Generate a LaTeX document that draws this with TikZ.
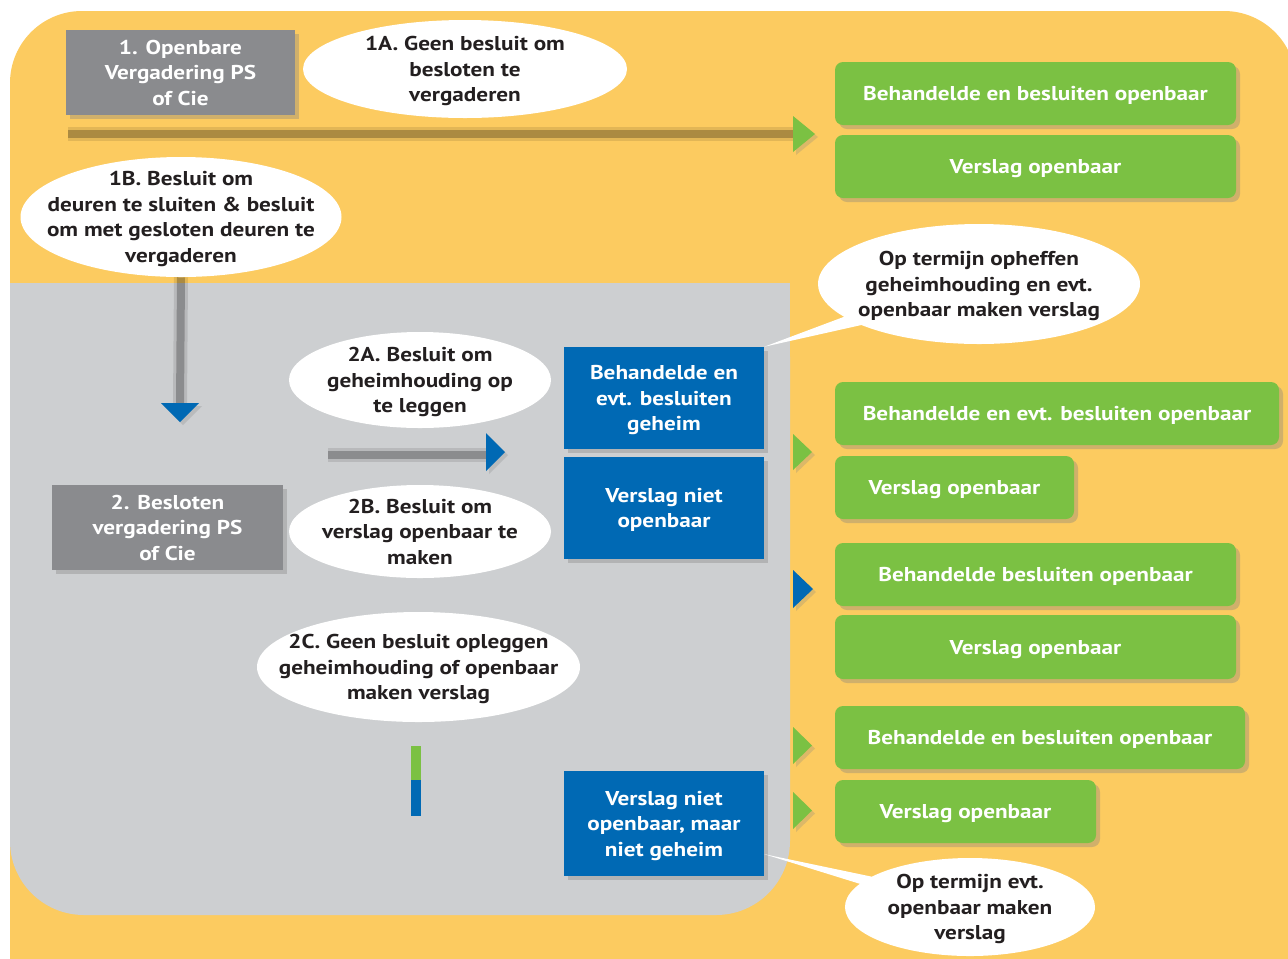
\documentclass[tikz,border=0pt]{standalone}
\usepackage{fontspec}
\setmainfont{PT Sans}[FakeStretch=1.16]
\usetikzlibrary{shapes.geometric,shapes.callouts,shadows}
\newdimen\pxu \pxu=0.75pt
\definecolor{bgyellow}{HTML}{FCCB60}
\definecolor{bggray}{HTML}{CDCFD1}
\definecolor{boxgray}{HTML}{8A8B8E}
\definecolor{boxblue}{HTML}{0069B4}
\definecolor{boxgreen}{HTML}{7BC143}
\definecolor{txtdark}{HTML}{231F20}
\tikzset{
  x=0.75pt, y=-0.75pt,
  lbl/.style={font=\fontsize{15}{19.2}\selectfont\bfseries, align=center, inner sep=0pt, text depth=0pt},
  wh/.style 2 args={minimum width=#1\pxu, minimum height=#2\pxu},
  shad/.style={drop shadow={shadow xshift=4\pxu, shadow yshift=-4\pxu, opacity=.35}},
  smallshad/.style={drop shadow={shadow xshift=3\pxu, shadow yshift=-3\pxu, opacity=.25}},
  graybox/.style={lbl, fill=boxgray, text=white, shad},
  bluebox/.style={lbl, fill=boxblue, text=white, shad},
  greenbox/.style={lbl, fill=boxgreen, text=white, rounded corners=8\pxu, shad},
  bubble/.style={lbl, ellipse, fill=white, text=txtdark, inner xsep=-40\pxu, inner ysep=-15\pxu},
  callbubble/.style={lbl, ellipse callout, fill=white, text=txtdark, callout pointer arc=10,
    inner xsep=-40\pxu, inner ysep=-15\pxu},
  flowline/.style={line width=8\pxu, draw=black, draw opacity=.24,
    preaction={draw=black, draw opacity=.1, line width=14\pxu}},
}
\begin{document}
\begin{tikzpicture}
\clip (0,0) rectangle (1288,958);
\fill[white] (0,0) rectangle (1288,958);
% backgrounds
\fill[bgyellow, rounded corners=72\pxu] (10,1040) -- (10,11) -- (1296,11) -- (1296,1040) -- cycle;
\fill[bggray, rounded corners=74\pxu] (10,283) -- (10,915) -- (790,915) -- (790,283) -- cycle;
\fill[bggray] (10,283) rectangle (790,400);

% nodes: gray boxes
\node[graybox, wh={229}{85}] (b1) at (180.5,72.5) {1. Openbare\\Vergadering PS\\of Cie};
\node[graybox, wh={231}{85}] (b2) at (167.5,527.5) {2. Besloten\\vergadering PS\\of Cie};

% flow lines
\coordinate (h1s) at (68,134);
\coordinate (h1e) at (793,134);
\coordinate (v1e) at (180,405);
\coordinate (h2s) at (328,455);
\coordinate (h2e) at (487,455);

\node[bubble, wh={321}{120}] (e1b) at (181,217) {1B. Besluit om\\deuren te sluiten \& besluit\\om met gesloten deuren te\\vergaderen};

\draw[flowline] (h1s) -- (h1e);
\draw[flowline] (e1b.south) -- (v1e);
\draw[flowline] (h2s) -- (h2e);

% triangles
\path[fill=boxgreen, smallshad] (793,116) -- (815,134) -- (793,152) -- cycle;
\path[fill=boxblue, smallshad] (161,403) -- (199,403) -- (180,422) -- cycle;
\path[fill=boxblue, smallshad] (486,433) -- (505,452) -- (486,471) -- cycle;
\path[fill=boxgreen, smallshad] (793,434) -- (812,452) -- (793,470) -- cycle;
\path[fill=boxblue, smallshad] (793,570) -- (813,589) -- (793,608) -- cycle;
\path[fill=boxgreen, smallshad] (793,727) -- (812,745.5) -- (793,764) -- cycle;
\path[fill=boxgreen, smallshad] (793,792) -- (812,810.5) -- (793,829) -- cycle;

% small bar
\fill[boxgreen] (411,746) rectangle (421,780);
\fill[boxblue] (411,780) rectangle (421,816);

% ellipses
\node[bubble, wh={324}{98}] (e1a) at (465,69) {1A. Geen besluit om\\besloten te\\vergaderen};
\node[bubble, wh={262}{96}] (e2a) at (420,380) {2A. Besluit om\\geheimhouding op\\te leggen};
\node[bubble, wh={262}{93}] (e2b) at (420,531.5) {2B. Besluit om\\verslag openbaar te\\maken};
\node[bubble, wh={323}{110}] (e2c) at (418.5,667) {2C. Geen besluit opleggen\\geheimhouding of openbaar\\maken verslag};

% blue boxes
\node[bluebox, wh={200}{102}] (u1) at (664,398) {Behandelde en\\evt. besluiten\\geheim};
\node[bluebox, wh={200}{102}] (u2) at (664,508) {Verslag niet\\openbaar};
\node[bluebox, wh={200}{105}] (u3) at (664,823.5) {Verslag niet\\openbaar, maar\\niet geheim};

% green boxes
\node[greenbox, wh={401}{63}] (g1) at (1035.5,93.5) {Behandelde en besluiten openbaar};
\node[greenbox, wh={401}{63}] (g2) at (1035.5,166.5) {Verslag openbaar};
\node[greenbox, wh={444}{63}] (g3) at (1057,413.5) {Behandelde en evt. besluiten openbaar};
\node[greenbox, wh={239}{63}] (g4) at (954.5,487.5) {Verslag openbaar};
\node[greenbox, wh={401}{63}] (g5) at (1035.5,574.5) {Behandelde besluiten openbaar};
\node[greenbox, wh={401}{64}] (g6) at (1035.5,647) {Verslag openbaar};
\node[greenbox, wh={410}{63}] (g7) at (1040,737.5) {Behandelde en besluiten openbaar};
\node[greenbox, wh={261}{63}] (g8) at (965.5,811.5) {Verslag openbaar};

% callouts
\node[callbubble, wh={322}{120}, callout absolute pointer={(u1.north east)}] (c1) at (979,284) {Op termijn opheffen\\geheimhouding en evt.\\openbaar maken verslag};
\node[callbubble, wh={250}{98}, callout absolute pointer={(u3.-17)}] (c2) at (970,907) {Op termijn evt.\\openbaar maken\\verslag};
\end{tikzpicture}
\end{document}
